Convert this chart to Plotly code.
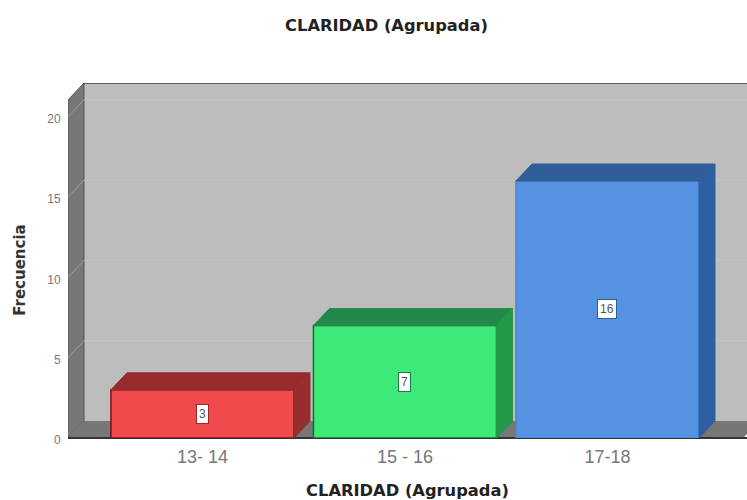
"""CLARIDAD (Agrupada): SPSS-style 3D bar chart drawn with Plotly."""

import plotly.graph_objects as go

categories = ["13- 14", "15 - 16", "17-18"]
frequencies = [3, 7, 16]
y_ticks = [0, 5, 10, 15, 20]

front_colors = ["#F04A4C", "#3DE977", "#5592E2"]
top_colors = ["#962A2C", "#23894A", "#2F5E9B"]
side_colors = ["#972E2E", "#239A48", "#2F5FA2"]
edge_colors = ["#7A1014", "#0F6E34", "#4C86D6"]
label_edges = ["#9A2A2A", "#1E7A40", "#2F5FA2"]

# axis layout, one category step is 202.5 px and one count is 16.08 px
BAR_WIDTH = 0.904
X_MIN, X_MAX = -0.664, 2.689
X_FLOOR_END = 2.67
Y_MAX = 22.1
DEPTH_X = 0.079
DEPTH_Y = 1.057
Y_WALL_TOP = Y_MAX - DEPTH_Y

MARGIN_L, MARGIN_T, MARGIN_B = 68, 83, 61.5
WIDTH, HEIGHT = 747, 500
TITLE_FONT = "DejaVu Sans, Verdana, sans-serif"
LABEL_FONT = "Liberation Sans, Arial, sans-serif"

positions = list(range(len(categories)))


def path(points):
    return "M " + " L ".join(f"{x},{y}" for x, y in points) + " Z"


fig = go.Figure()

# Back wall, left wall and floor sit under the bars
shapes = [
    dict(type="rect", x0=X_MIN + DEPTH_X, x1=X_MAX, y0=DEPTH_Y, y1=Y_MAX,
         fillcolor="#BDBDBD", line=dict(width=0)),
    dict(type="path", fillcolor="#777777", line=dict(color="#555555", width=1),
         path=path([(X_MIN, 0), (X_MIN + DEPTH_X, DEPTH_Y), (X_MIN + DEPTH_X, Y_MAX), (X_MIN, Y_WALL_TOP)])),
    dict(type="path", fillcolor="#777777", line=dict(width=0),
         path=path([(X_MIN, 0), (X_FLOOR_END, 0), (X_FLOOR_END + DEPTH_X, DEPTH_Y), (X_MIN + DEPTH_X, DEPTH_Y)])),
    dict(type="line", x0=X_MIN + DEPTH_X, x1=X_MAX, y0=Y_MAX, y1=Y_MAX,
         line=dict(color="#5A5A5A", width=2)),
]

# Gridlines run along the back wall and down the left wall
for tick in y_ticks[1:]:
    shapes.append(dict(type="line", x0=X_MIN + DEPTH_X, x1=X_MAX, y0=tick + DEPTH_Y, y1=tick + DEPTH_Y,
                       line=dict(color="#C4C4C4", width=1)))
    shapes.append(dict(type="line", x0=X_MIN, x1=X_MIN + DEPTH_X, y0=tick, y1=tick + DEPTH_Y,
                       line=dict(color="#9E9E9E", width=1)))

for shape in shapes:
    shape.update(xref="x", yref="y", layer="below")

fig.add_trace(go.Bar(
    x=positions,
    y=frequencies,
    width=BAR_WIDTH,
    marker=dict(color=front_colors, line=dict(color=edge_colors, width=1.5)),
    showlegend=False,
))

# Top and side faces of each bar
for pos, value, top, side in zip(positions, frequencies, top_colors, side_colors):
    left, right = pos - BAR_WIDTH / 2, pos + BAR_WIDTH / 2
    fig.add_trace(go.Scatter(
        x=[left, right, right + DEPTH_X, left + DEPTH_X, left],
        y=[value, value, value + DEPTH_Y, value + DEPTH_Y, value],
        mode="lines", fill="toself", fillcolor=top,
        line=dict(color=top, width=1), showlegend=False,
    ))
    fig.add_trace(go.Scatter(
        x=[right, right + DEPTH_X, right + DEPTH_X, right, right],
        y=[0, DEPTH_Y, value + DEPTH_Y, value, 0],
        mode="lines", fill="toself", fillcolor=side,
        line=dict(color=side, width=1), showlegend=False,
    ))

# Value labels in small white boxes
annotations = [
    dict(x=pos, y=value / 2, xref="x", yref="y", text=str(value), showarrow=False,
         font=dict(family=LABEL_FONT, size=12, color="#555555"),
         bgcolor="white", bordercolor=edge, borderwidth=1, borderpad=2)
    for pos, value, edge in zip(positions, frequencies, label_edges)
]
# y title sits lower than the plot centre, paper coords run over the plot area
annotations.append(dict(
    x=(20 - MARGIN_L) / (WIDTH - MARGIN_L),
    y=(HEIGHT - MARGIN_B - 271) / (HEIGHT - MARGIN_B - MARGIN_T),
    xref="paper", yref="paper", xanchor="center", yanchor="middle",
    text="<b>Frecuencia</b>", showarrow=False, textangle=-90,
    font=dict(family=TITLE_FONT, size=15, color="#333333"),
))

fig.update_layout(
    width=WIDTH,
    height=HEIGHT,
    margin=dict(l=MARGIN_L, r=0, t=MARGIN_T, b=MARGIN_B),
    paper_bgcolor="white",
    plot_bgcolor="white",
    shapes=shapes,
    annotations=annotations,
    font=dict(family=LABEL_FONT),
    title=dict(
        text="<b>CLARIDAD (Agrupada)</b>",
        x=386.5 / WIDTH, xanchor="center",
        y=1 - 25 / HEIGHT, yanchor="middle",
        font=dict(family=TITLE_FONT, size=16.3, color="#222222"),
    ),
)
fig.update_xaxes(
    range=[X_MIN, X_MAX],
    tickvals=positions,
    ticktext=categories,
    tickfont=dict(size=18, color="#777777"),
    showgrid=False,
    zeroline=False,
    showline=False,
    ticks="outside",
    ticklen=2,
    tickcolor="white",
    title=dict(
        text="<b>CLARIDAD (Agrupada)</b>",
        font=dict(family=TITLE_FONT, size=16.3, color="#222222"),
        standoff=22,
    ),
)
fig.update_yaxes(
    range=[0, Y_MAX],
    tickvals=y_ticks,
    tickfont=dict(size=12, color="#777777"),
    ticklabelshift=2,
    showgrid=False,
    zeroline=True,
    zerolinecolor="#333333",
    zerolinewidth=1.5,
    showline=False,
    ticks="outside",
    ticklen=4,
    tickcolor="white",
)

fig.write_html(
    "out.html",
    config={"displayModeBar": False},
    post_script="document.body.style.margin = '0';",
)
